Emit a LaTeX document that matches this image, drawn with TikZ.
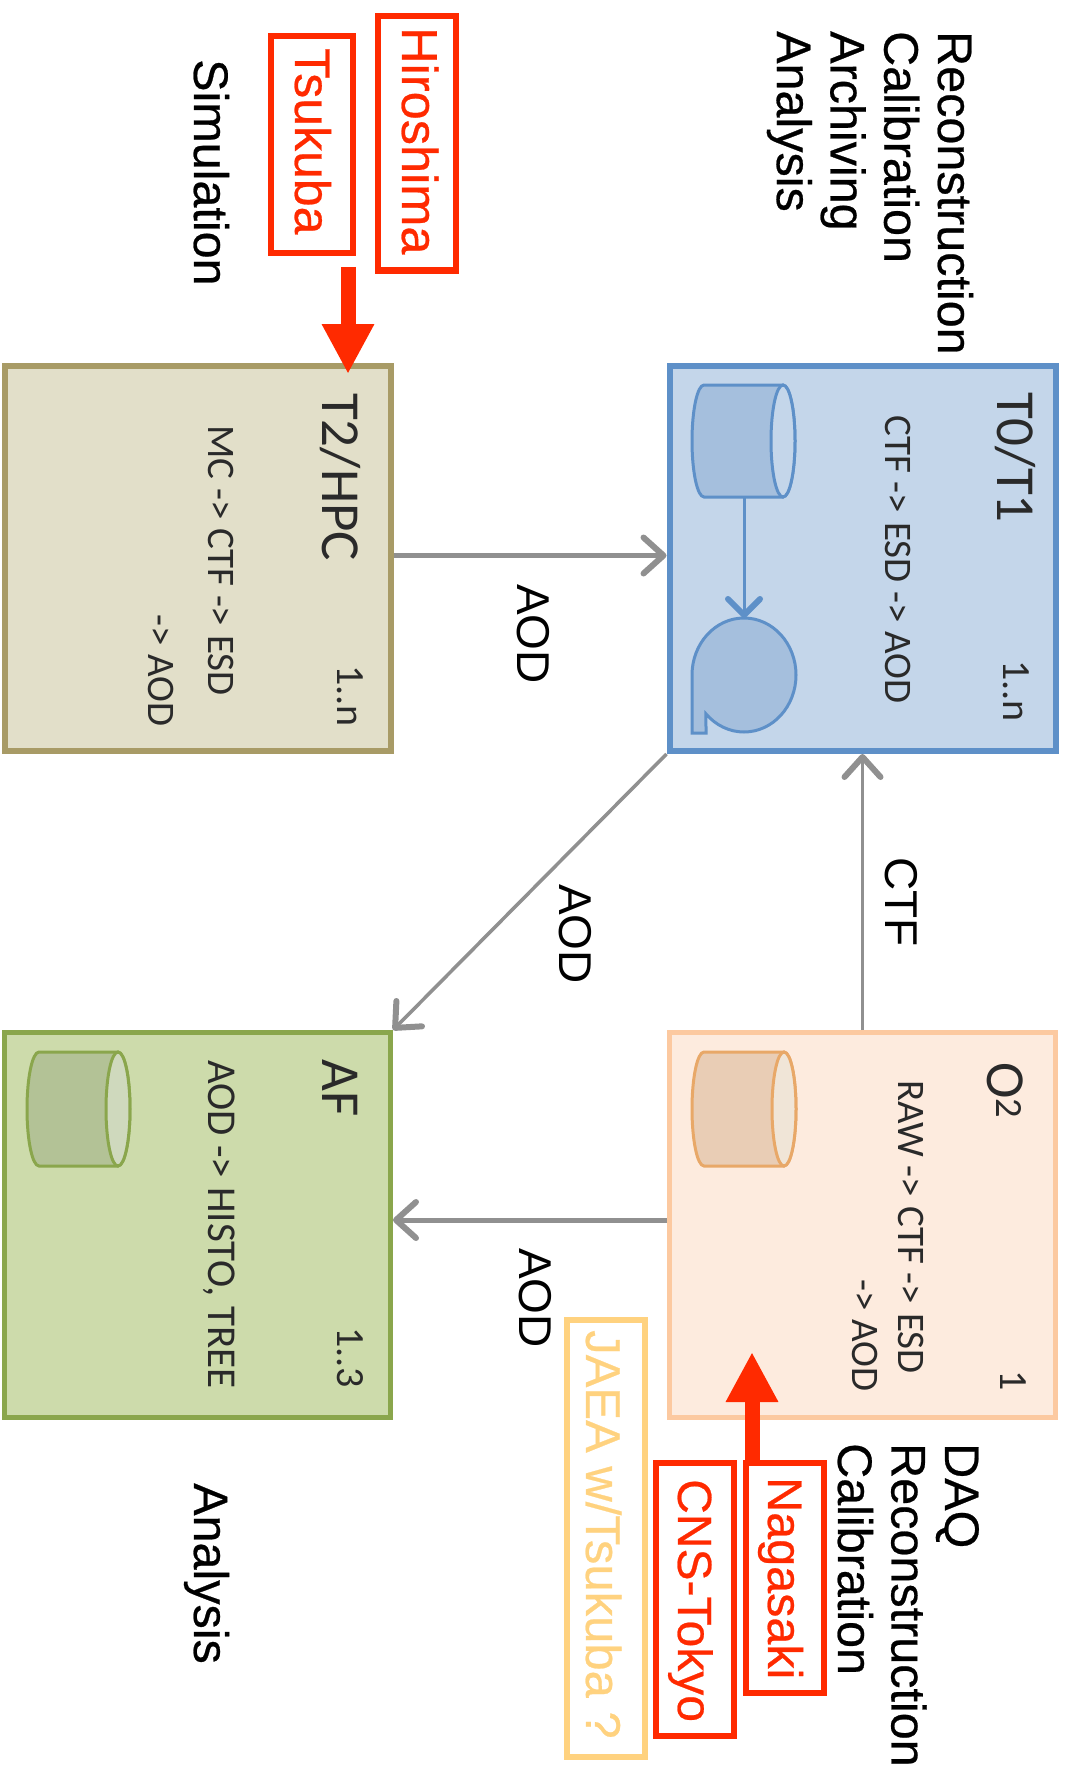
\documentclass[tikz,border=0pt]{standalone}
\usepackage{fontspec}
\setmainfont{Liberation Sans}
\newfontfamily\carlito{Carlito}
\newfontfamily\heavy[FakeBold=0.5]{Liberation Sans}
\usetikzlibrary{arrows.meta}
\definecolor{flowgray}{HTML}{909090}
\definecolor{hotred}{HTML}{FF2A00}
\definecolor{paleorange}{HTML}{FFD27F}
\definecolor{inkgray}{HTML}{2A2A2A}
\definecolor{blueline}{HTML}{5E90C8}
\definecolor{bluefill}{HTML}{C4D6EA}
\definecolor{bluedark}{HTML}{A5BFDD}
\definecolor{khakiline}{HTML}{A89B66}
\definecolor{khakifill}{HTML}{E2DFC9}
\definecolor{peachline}{HTML}{FCC9A0}
\definecolor{peachfill}{HTML}{FDEBDE}
\definecolor{peachdark}{HTML}{E9CDB5}
\definecolor{peachend}{HTML}{F0E5D7}
\definecolor{peachedge}{HTML}{E8A868}
\definecolor{greenline}{HTML}{8AA64C}
\definecolor{greenfill}{HTML}{CDDBAB}
\definecolor{greendark}{HTML}{B3C296}
\definecolor{greenend}{HTML}{CFD9BD}
% left end, ellipse centre, top, bottom, half height, then edge, body and end colours
\newcommand{\drumat}[8]{
\draw[draw=#6,fill=#7,line width=3pt] (#2,#3) -- ({#1+12},#3) arc[start angle=270,end angle=90,x radius=12,y radius=#5] -- (#2,#4) arc[start angle=90,end angle=-90,x radius=12,y radius=#5] -- cycle;
\draw[draw=#6,fill=#8,line width=3pt] (#2,{#3+#5}) ellipse[x radius=12,y radius=#5];
}
\begin{document}
\begin{tikzpicture}[x=1pt,y=-1pt,
	box/.style 2 args={draw=#1,fill=#2,line width=5pt,minimum width=386pt,minimum height=385pt,inner sep=0pt},
	tag/.style={draw=hotred,line width=6pt,inner sep=0pt},
	lab/.style={rotate=-90,anchor=base west,inner sep=0pt,font=\heavy\fontsize{48.5}{54}\selectfont},
	tagtxt/.style={lab,text=hotred,font=\heavy\fontsize{#1}{54}\selectfont},
	small/.style={rotate=-90,anchor=base west,inner sep=0pt,text=inkgray,font=\carlito\fontsize{39}{46}\selectfont},
	title/.style={rotate=-90,anchor=base west,inner sep=0pt,text=inkgray,font=\carlito\fontsize{55}{60}\selectfont},
	count/.style={rotate=-90,anchor=base west,inner sep=0pt,text=inkgray,font=\carlito\fontsize{40}{46}\selectfont},
	flowlab/.style={rotate=-90,anchor=base west,inner sep=0pt,font=\fontsize{46}{50}\selectfont},
	flow/.style={draw=flowgray,line width=#1,-{Straight Barb[length=20pt,width=36pt,round,line width=6pt]}},
	hot/.style={draw=hotred,line width=15pt,-{Triangle[length=50pt,width=49pt]}},
]
\useasboundingbox (0,0) rectangle (1066,1771);

% the four sites
\node[box={blueline}{bluefill},line width=6pt] (t0) at (862.5,558.5) {};
\node[box={khakiline}{khakifill},line width=6pt] (t2) at (197.5,558.5) {};
\node[box={peachline}{peachfill}] (o2) at (862.5,1225) {};
\node[box={greenline}{greenfill}] (af) at (197.5,1225) {};

\node[title] (t0name) at (997,392) {T0/T1};
\node[count] (t0count) at (1003,660) {1..n};
\node[small] (t0work) at (885,415) {CTF -> ESD -> AOD};
\drumat{692}{783}{385}{497}{56}{blueline}{bluedark}{bluefill}
\coordinate (t0drum) at (744,497);
\coordinate (t0tape) at (744,618);
\draw[draw=blueline,fill=bluedark,line width=3pt] (692,675) arc[start angle=180,end angle=497,x radius=52,y radius=57] -- (706,733) -- (692,733) -- cycle;
\draw[draw=blueline,line width=3pt,-{Straight Barb[length=16pt,width=32pt,round,line width=6pt]}] (t0drum) -- (t0tape);

\node[title] (t2name) at (322,393) {T2/HPC};
\node[count] (t2count) at (337,665) {1..n};
\node[small] (t2work) at (208,425) {MC -> CTF -> ESD};
\node[small] (t2more) at (148,614) {-> AOD};

\node[title] (o2name) at (987,1062) {O\textsuperscript{2}};
\node[count] (o2count) at (1000,1370) {1};
\node[small] (o2work) at (898,1080) {RAW -> CTF -> ESD};
\node[small] (o2more) at (852,1279) {-> AOD};
\drumat{692}{784}{1052}{1166}{57}{peachedge}{peachdark}{peachend}

\node[title] (afname) at (322,1059) {AF};
\node[count] (afcount) at (337,1327) {1..3};
\node[small,font=\carlito\fontsize{41}{46}\selectfont] (afwork) at (208,1060) {AOD -> HISTO, TREE};
\drumat{27}{118}{1052}{1166}{57}{greenline}{greendark}{greenend}

% data flow
\draw[flow=5pt] ([yshift=3pt]t2.east) -- ([yshift=3pt]t0.west);
\draw[flow=3.5pt] (o2) -- (t0);
\draw[flow=3.5pt] (t0.south west) -- (af.north east);
\draw[flow=5pt] ([yshift=5pt]o2.west) -- ([yshift=5pt]af.east);
\node[flowlab] (aodtop) at (517,584) {AOD};
\node[flowlab] (aoddiag) at (559,884) {AOD};
\node[flowlab] (aodlow) at (519,1248) {AOD};
\node[flowlab] (ctflab) at (885,857) {CTF};

% what each tier does
\foreach \txt [count=\i] in {Reconstruction,Calibration,Archiving,Analysis}
	\node[lab] (topjob\i) at ({938-53.7*(\i-1)},31) {\txt};
\foreach \txt [count=\i] in {DAQ,Reconstruction,Calibration}
	\node[lab] (lowjob\i) at ({945-53.5*(\i-1)},1443) {\txt};
\node[lab] (simjob) at (194,59) {Simulation};
\node[lab] (anajob) at (194,1483) {Analysis};

% institutes
\node[tag,minimum width=78pt,minimum height=254pt] (hiroshima) at (417,143.5) {};
\node[tagtxt=50.5] (hiroshimatxt) at (402,27) {Hiroshima};
\node[tag,minimum width=82pt,minimum height=217pt] (tsukuba) at (312,145) {};
\node[tagtxt=50] (tsukubatxt) at (295,48) {Tsukuba};
\node[tag,minimum width=78pt,minimum height=230pt] (nagasaki) at (785,1578) {};
\node[tagtxt=48.5] (nagasakitxt) at (768,1477) {Nagasaki};
\node[tag,minimum width=78pt,minimum height=273pt] (cns) at (694.5,1599.5) {};
\node[tagtxt=48] (cnstxt) at (678,1479) {CNS-Tokyo};
\node[tag,draw=paleorange,minimum width=78pt,minimum height=437pt] (jaea) at (606,1538) {};
\node[tagtxt=49,text=paleorange] (jaeatxt) at (586,1330) {JAEA w/Tsukuba ?};

\coordinate (tsufoot) at (348,267);
\coordinate (t2top) at (348,374);
\coordinate (nagtop) at (752,1460);
\coordinate (o2in) at (752,1352);
\draw[hot] (tsufoot) -- (t2top);
\draw[hot] (nagtop) -- (o2in);
\end{tikzpicture}
\end{document}
